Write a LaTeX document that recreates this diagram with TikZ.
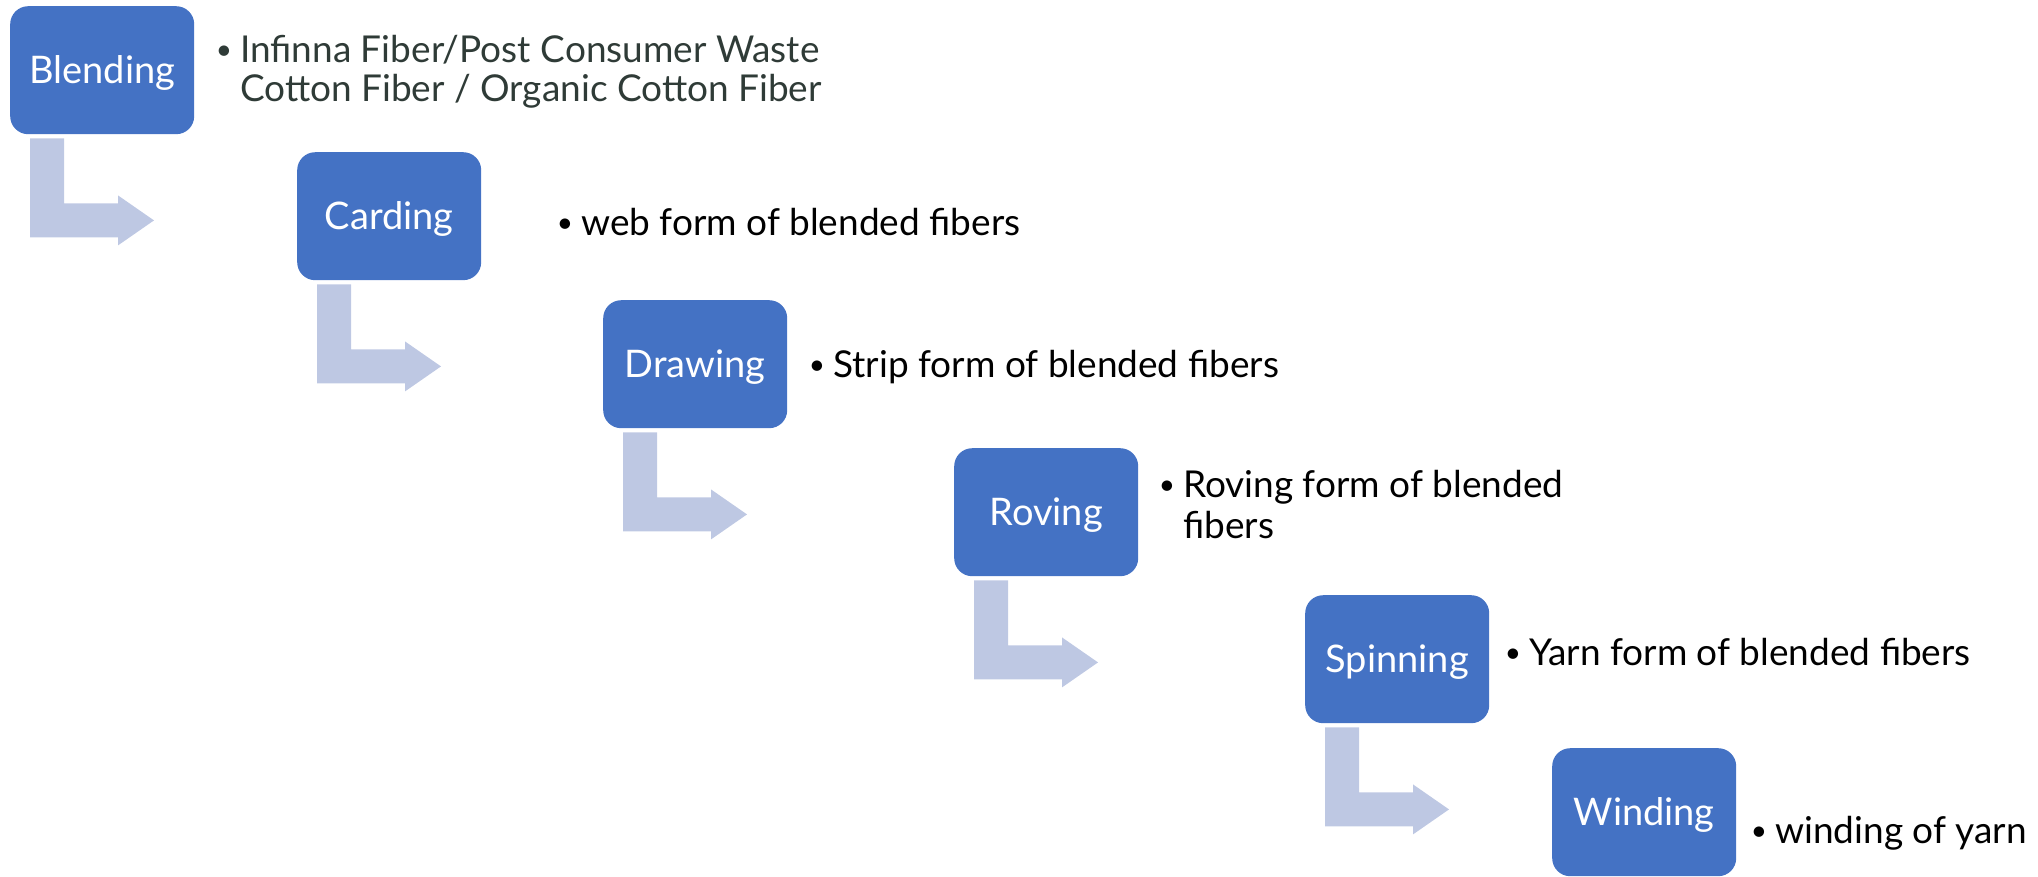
\documentclass[tikz,border=0pt]{standalone}
\usepackage{fontspec}
\setmainfont{Lato}
\usetikzlibrary{calc}
\definecolor{boxblue}{HTML}{4472C4}
\definecolor{arrowlav}{RGB}{190,200,227}
\definecolor{darktext}{HTML}{2F3B37}
\newcommand\bul{\llap{{\fontsize{28}{28}\selectfont\raisebox{3pt}{\textbullet}}\hspace{8pt}}}
\begin{document}
\begin{tikzpicture}[x=1pt,y=-1pt,
  stepbox/.style={rectangle, rounded corners=18pt, fill=boxblue, minimum width=184pt,
    minimum height=128pt, anchor=north west, inner sep=0pt, text=white,
    text height=27pt, text depth=0pt, font=\fontsize{38}{45}\selectfont},
  note/.style={anchor=base west, inner sep=0pt, text=black, font=\fontsize{37}{44}\selectfont},
  bendarrow/.style={fill=arrowlav}]
\useasboundingbox (0,0) rectangle (2038,876);

\node[stepbox] (b1) at (10,6) {Blending};
\node[stepbox] (b2) at (297,152) {Carding};
\node[stepbox] (b3) at (603,300) {Drawing};
\node[stepbox] (b4) at (954,448) {Roving};
\node[stepbox] (b5) at (1305,595) {Spinning};
\node[stepbox] (b6) at (1552,748) {Winding};

\foreach \b in {b1,b2,b3,b4,b5}{
  \begin{scope}[shift={(\b.south west)}]
    \fill[bendarrow] (20,4) -- (54,4) -- (54,69) -- (108,69) -- (108,61) -- (144,86)
      -- (108,111) -- (108,103) -- (20,103) -- cycle;
  \end{scope}
}

\node[note, text=darktext] (t1a) at (240,62) {\bul Infinna Fiber/Post Consumer Waste};
\node[note, text=darktext] (t1b) at (240,101) {Cotton Fiber / Organic Cotton Fiber};
\node[note] (t2) at (581,235) {\bul web form of blended fibers};
\node[note] (t3) at (833,377) {\bul Strip form of blended fibers};
\node[note] (t4a) at (1183,497) {\bul Roving form of blended};
\node[note] (t4b) at (1183,538) {fibers};
\node[note] (t5) at (1529,665) {\bul Yarn form of blended fibers};
\node[note] (t6) at (1775,843) {\bul winding of yarn};
\end{tikzpicture}
\end{document}
